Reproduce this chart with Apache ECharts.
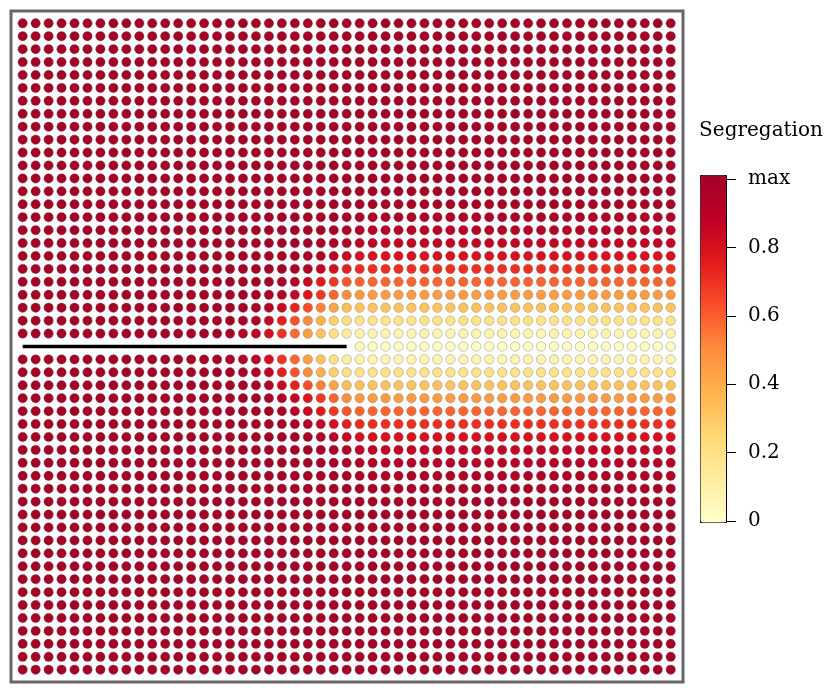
<!DOCTYPE html>
<html>
<head>
<meta charset="utf-8">
<script src="https://cdn.jsdelivr.net/npm/echarts@6/dist/echarts.min.js"></script>
<style>
  html, body { margin: 0; padding: 0; background: #fff; }
  #chart { width: 830px; height: 693px; }
</style>
</head>
<body>
<div id="chart"></div>
<script>
// lattice: 51 x 51 sites, crack along the middle row from the left edge
var nCols = 51;
var nRows = 51;
var maxValue = 1;
var crackRow = 25;
var crackTipCol = 25;

// segregation far ahead of the tip (cols 28..50), rows 14..36
var bandFirstRow = 14;
var farValues = [0.98, 0.95, 0.91, 0.86, 0.79, 0.70, 0.58, 0.45, 0.32, 0.19, 0.08, 0.03,
                 0.08, 0.19, 0.32, 0.45, 0.58, 0.70, 0.79, 0.86, 0.91, 0.95, 0.98];

// values around the crack tip, rows 15..35, cols 16..27 (null = crack, no site)
var tipFirstRow = 15;
var tipFirstCol = 16;
var tipBlock = [
  [1, 1, 1, 1, 1, 1, 1, 1, 1, 0.98, 0.96, 0.95],
  [1, 1, 1, 1, 1, 1, 1, 1, 0.98, 0.96, 0.93, 0.91],
  [1, 1, 1, 1, 1, 1, 1, 0.98, 0.96, 0.92, 0.88, 0.87],
  [1, 1, 1, 1, 1, 1, 0.98, 0.94, 0.89, 0.84, 0.80, 0.79],
  [1, 1, 1, 1, 1, 0.98, 0.93, 0.86, 0.80, 0.74, 0.71, 0.70],
  [1, 1, 1, 1, 0.98, 0.91, 0.84, 0.76, 0.68, 0.61, 0.58, 0.58],
  [1, 1, 1, 0.98, 0.92, 0.85, 0.77, 0.68, 0.58, 0.49, 0.46, 0.45],
  [1, 1, 0.98, 0.92, 0.84, 0.73, 0.63, 0.52, 0.42, 0.34, 0.32, 0.32],
  [1, 0.98, 0.93, 0.85, 0.74, 0.62, 0.50, 0.38, 0.28, 0.21, 0.19, 0.19],
  [0.98, 0.94, 0.88, 0.80, 0.69, 0.57, 0.44, 0.32, 0.20, 0.12, 0.09, 0.08],
  [null, null, null, null, null, null, null, null, null, null, 0.04, 0.03],
  [0.98, 0.94, 0.88, 0.80, 0.69, 0.57, 0.44, 0.32, 0.20, 0.12, 0.09, 0.08],
  [1, 0.98, 0.93, 0.85, 0.74, 0.62, 0.50, 0.38, 0.28, 0.21, 0.19, 0.19],
  [1, 1, 0.98, 0.92, 0.84, 0.73, 0.63, 0.52, 0.42, 0.34, 0.32, 0.32],
  [1, 1, 1, 0.98, 0.92, 0.85, 0.77, 0.68, 0.58, 0.49, 0.46, 0.45],
  [1, 1, 1, 1, 0.98, 0.91, 0.84, 0.76, 0.68, 0.61, 0.58, 0.58],
  [1, 1, 1, 1, 1, 0.98, 0.93, 0.86, 0.80, 0.74, 0.71, 0.70],
  [1, 1, 1, 1, 1, 1, 0.98, 0.94, 0.89, 0.84, 0.80, 0.79],
  [1, 1, 1, 1, 1, 1, 1, 0.98, 0.96, 0.92, 0.88, 0.87],
  [1, 1, 1, 1, 1, 1, 1, 1, 0.98, 0.96, 0.93, 0.91],
  [1, 1, 1, 1, 1, 1, 1, 1, 1, 0.98, 0.96, 0.95]
];

var colorbarTicks = [0, 0.2, 0.4, 0.6, 0.8, 1];
var ylOrRd = ['#ffffcc', '#ffeda0', '#fed976', '#feb24c', '#fd8d3c',
              '#fc4e2a', '#e31a1c', '#bd0026', '#a50026'];

function siteValue(r, c) {
  var tr = r - tipFirstRow, tc = c - tipFirstCol;
  if (tr >= 0 && tr < tipBlock.length && tc >= 0 && tc < tipBlock[0].length) {
    return tipBlock[tr][tc];
  }
  var br = r - bandFirstRow;
  if (c >= tipFirstCol + tipBlock[0].length && br >= 0 && br < farValues.length) {
    return farValues[br];
  }
  if (r === crackRow && c <= crackTipCol) return null;
  return maxValue;
}

var sites = [];
for (var r = 0; r < nRows; r++) {
  for (var c = 0; c < nCols; c++) {
    var v = siteValue(r, c);
    if (v !== null) sites.push([c, r, v]);
  }
}

var serif = '"DejaVu Serif", "Liberation Serif", serif';
var chart = echarts.init(document.getElementById('chart'), null, { renderer: 'canvas' });

var option = {
  animation: false,
  backgroundColor: '#fff',
  title: {
    text: 'Segregation',
    left: 756,
    top: 116,
    textAlign: 'center',
    textStyle: { fontFamily: serif, fontSize: 20, fontWeight: 'normal', color: '#000' }
  },
  grid: [
    { left: 11, top: 11, width: 672, height: 671, show: true,
      borderColor: '#666', borderWidth: 3, backgroundColor: 'transparent' },
    { left: 700, top: 179, width: 26, height: 342, show: false }
  ],
  xAxis: [
    { type: 'value', gridIndex: 0, min: -0.9, max: 50.95, show: false },
    { type: 'value', gridIndex: 1, min: 0, max: 1, show: false }
  ],
  yAxis: [
    { type: 'value', gridIndex: 0, min: -0.95, max: 50.95, inverse: true, show: false },
    { type: 'value', gridIndex: 1, min: 0, max: 1, interval: 0.2, position: 'right', z: 10,
      axisLine: { show: true, onZero: false, lineStyle: { color: '#000', width: 1 } },
      splitLine: { show: false },
      axisTick: { show: true, inside: false, length: 10, lineStyle: { color: '#000', width: 1 } },
      axisLabel: {
        margin: 22, color: '#000', fontFamily: serif, fontSize: 20,
        formatter: function (v) {
          if (v >= maxValue) return 'max';
          return colorbarTicks.indexOf(v) >= 0 ? String(v) : '';
        }
      }
    }
  ],
  visualMap: {
    type: 'continuous',
    seriesIndex: 0,
    dimension: 2,
    min: 0,
    max: maxValue,
    left: 700,
    top: 175,
    itemWidth: 26,
    itemHeight: 347,
    padding: 0,
    borderColor: '#000',
    borderWidth: 1,
    text: null,
    calculable: false,
    hoverLink: false,
    showLabel: false,
    inRange: { color: ylOrRd }
  },
  series: [
    {
      type: 'scatter',
      xAxisIndex: 0,
      yAxisIndex: 0,
      data: sites,
      symbol: 'circle',
      symbolSize: 9.5,
      itemStyle: { opacity: 1, borderColor: 'rgba(110,110,110,0.55)', borderWidth: 0.7 },
      silent: true
    },
    {
      type: 'line',
      xAxisIndex: 0,
      yAxisIndex: 0,
      data: [[0, crackRow], [crackTipCol, crackRow]],
      symbol: 'none',
      lineStyle: { color: '#000', width: 3.5 },
      silent: true,
      z: 5
    }
  ]
};
chart.setOption(option);
</script>
</body>
</html>
